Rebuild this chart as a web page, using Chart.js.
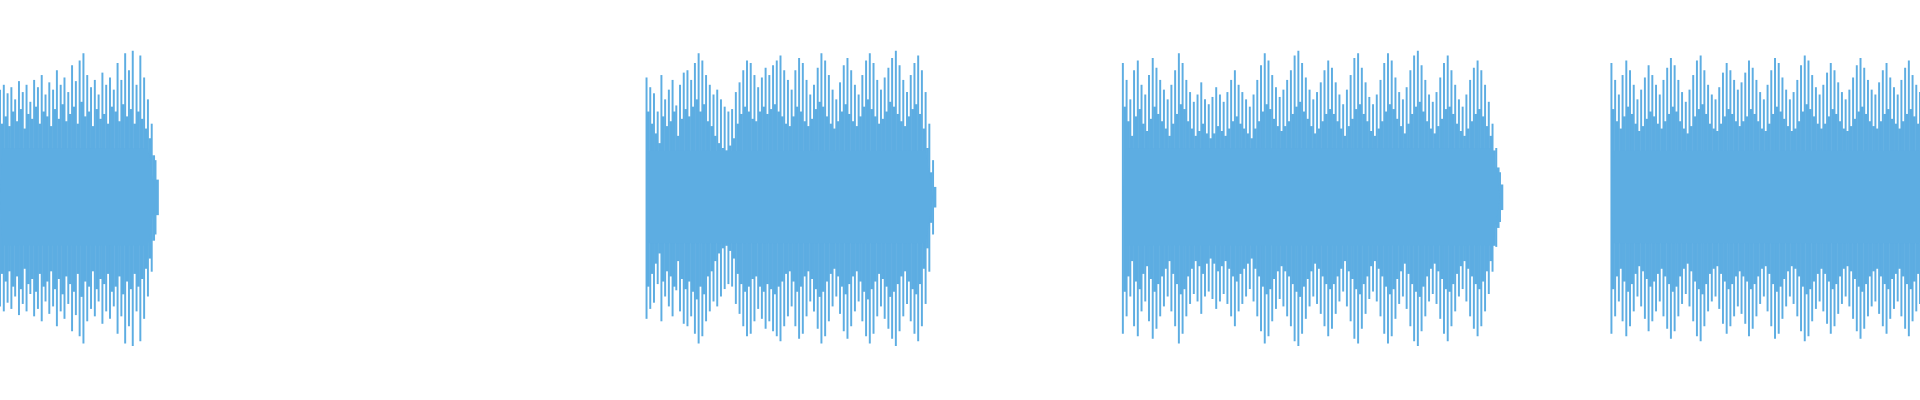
<!DOCTYPE html>
<html><head><meta charset="utf-8">
<script src="https://cdn.jsdelivr.net/npm/chart.js@4/dist/chart.umd.min.js"></script>
<style>html,body{margin:0;padding:0;background:#fff}#wrap{width:1920px;height:400px}</style>
</head><body><div id="wrap"><canvas id="c"></canvas></div>
<script>
const segmentStarts = [0, 528, 917, 1316];
const segmentEnds = [127, 762, 1225, 1568];
const coreAmp = [40, 38, 40, 38];
const seg1 = [88,92,85,90,80,95,86,92,78,96,90,100,84,94,88,104,92,98,86,108,95,112,118,100,90,96,84,102,92,98,88,110,96,118,104,120,92,116,98,80,60,30];
const seg2 = [98,90,85,70,100,80,88,96,75,92,102,104,96,110,118,112,100,92,84,88,80,74,70,72,86,94,104,112,110,100,90,98,106,100,108,112,116,104,96,88,104,114,110,96,84,92,106,118,112,100,88,80,94,108,114,104,92,84,100,112,118,110,96,88,98,106,114,120,108,96,86,100,110,116,104,86,60,30];
const seg3 = [110,96,80,104,112,92,84,100,114,106,96,88,80,92,104,118,110,96,86,78,84,94,80,76,82,90,84,78,86,96,104,92,86,80,74,84,96,108,118,112,100,90,82,88,96,104,116,120,110,98,88,80,86,94,104,112,106,94,84,76,88,100,114,118,106,94,82,76,84,96,110,118,112,98,86,80,90,104,116,120,108,96,84,78,86,98,110,116,104,92,80,74,84,96,106,112,104,92,78,60,40,20];
const seg4 = [110,96,84,100,112,104,92,80,88,98,108,100,92,84,96,106,114,108,96,86,78,88,100,112,116,104,92,84,80,90,102,110,104,96,88,94,102,112,106,96,86,80,92,104,114,110,98,88,80,86,96,108,116,112,100,90,84,92,102,110,104,94,86,80,88,98,108,114,106,96,88,84,94,104,110,98,90,84,96,106,112,100,92,86];
const in1 = [60,66,58,70,62,72,56,68,64,74,60,70,66,58,72,64,76,62,68,74,60,78,66,70,58,72,64,68,60,74,70,62,76,66,72,60,70,64,56,48,34,14];
const in2 = [70,60,52,44,66,58,62,70,50,64,72,66,74,80,70,76,62,58,50,44,40,38,42,48,60,68,74,70,64,62,70,74,68,72,76,70,66,60,58,66,74,70,62,58,64,72,78,74,66,60,56,62,70,76,68,62,58,66,74,80,72,66,60,64,70,78,74,68,62,58,66,72,76,68,56,40,20,8];
const in3 = [74,62,50,66,72,60,54,64,74,68,62,56,50,60,68,76,72,62,56,50,54,60,52,48,52,58,54,50,56,62,66,60,56,52,48,56,62,70,76,72,64,58,54,58,62,68,74,78,70,64,58,52,56,62,68,72,68,62,56,50,58,64,72,76,68,62,54,50,56,62,70,76,72,64,58,52,60,68,74,78,70,62,56,52,58,64,72,74,68,60,54,50,56,62,68,72,66,58,50,38,24,10];
const in4 = [72,62,56,66,74,68,60,54,58,64,70,66,60,56,62,68,74,70,62,56,52,58,66,72,76,68,60,56,54,60,66,72,68,62,58,62,66,72,68,62,56,54,60,68,74,70,64,58,54,56,62,70,76,72,66,60,56,60,66,72,68,62,56,54,58,64,70,74,68,62,58,56,62,68,72,64,60,56,62,68,72,66,60,58];
const segs = [seg1, seg2, seg3, seg4];
const inners = [in1, in2, in3, in4];

const bars = [], innerBars = [], coreTop = [], coreBot = [];
segs.forEach((arr, s) => {
  const a = segmentStarts[s], b = segmentEnds[s];
  const step = (b - a) / (arr.length - 1);
  arr.forEach((v, i) => {
    const x = a + step * i;
    bars.push({x, y: [-v * 1.02, v]});
    innerBars.push({x: x + step / 2, y: [-inners[s][i] * 1.05, inners[s][i]]});
  });
  const taper = s === 3 ? coreAmp[s] : 0;
  coreTop.push({x: a, y: 3}, {x: a + 2, y: coreAmp[s]}, {x: b - 6, y: coreAmp[s]}, {x: b, y: taper});
  coreBot.push({x: a, y: -3}, {x: a + 2, y: -coreAmp[s]}, {x: b - 6, y: -coreAmp[s]}, {x: b, y: -taper});
  coreTop.push({x: b + 1, y: null}); coreBot.push({x: b + 1, y: null});
});
const col = '#5DADE2';
new Chart(document.getElementById('c'), {
  data: { datasets: [
    { type: 'line', data: coreTop, borderWidth: 0, pointRadius: 0, backgroundColor: col, fill: '+1', spanGaps: false, tension: 0 },
    { type: 'line', data: coreBot, borderWidth: 0, pointRadius: 0, backgroundColor: col, fill: false, spanGaps: false, tension: 0 },
    { type: 'bar', data: bars, backgroundColor: col, barThickness: 1.3, borderWidth: 0, grouped: false },
    { type: 'bar', data: innerBars, backgroundColor: col, barThickness: 2.2, borderWidth: 0, grouped: false }
  ]},
  options: {
    animation: false, responsive: true, maintainAspectRatio: false,
    layout: { padding: 0 },
    plugins: { legend: { display: false }, tooltip: { enabled: false } },
    scales: {
      x: { type: 'linear', min: 0, max: 1568, display: false, offset: false },
      y: { min: -167, max: 162, display: false }
    }
  }
});
</script></body></html>
